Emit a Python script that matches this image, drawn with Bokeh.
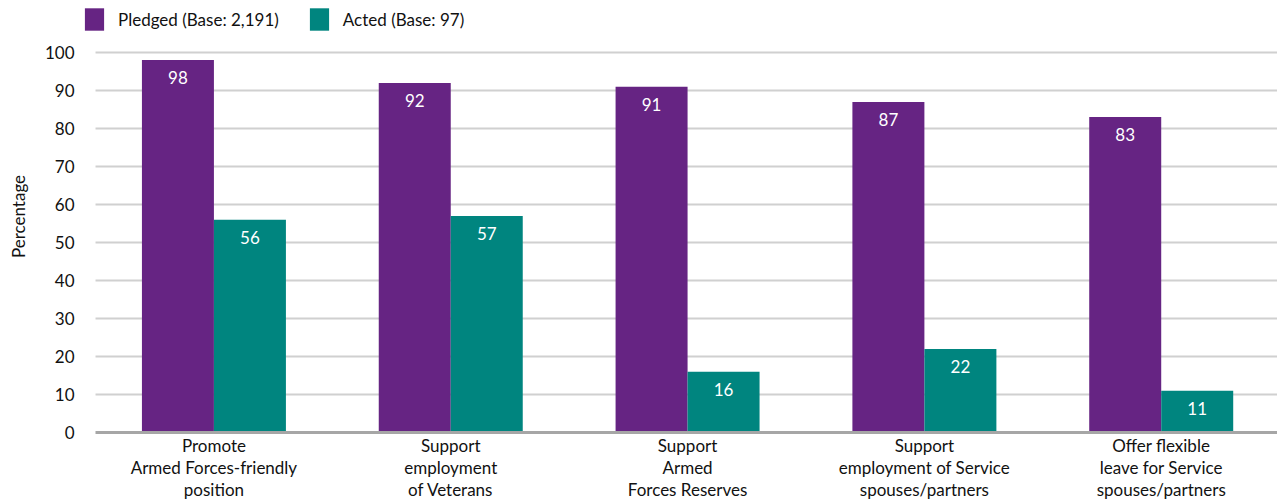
from bokeh.plotting import figure
from bokeh.models import Range1d, FixedTicker, ColumnDataSource, Legend, LegendItem
from bokeh.core.properties import value
from bokeh.embed import file_html
from bokeh.resources import INLINE

categories = [
    "Promote\nArmed Forces-friendly\nposition",
    "Support\nemployment\nof Veterans",
    "Support\nArmed\nForces Reserves",
    "Support\nemployment of Service\nspouses/partners",
    "Offer flexible\nleave for Service\nspouses/partners",
]
pledged = [98, 92, 91, 87, 83]
acted = [56, 57, 16, 22, 11]
series_names = ["Pledged (Base: 2,191)", "Acted (Base: 97)"]
y_ticks = [0, 10, 20, 30, 40, 50, 60, 70, 80, 90, 100]

PURPLE = "#662483"
TEAL = "#00857f"
FONT = "Lato"
FS = "17px"
TXT = "#111111"

n = len(categories)
xpos = [i + 0.5 for i in range(n)]
bw = 0.304
src = ColumnDataSource(dict(
    x=xpos,
    xp=[x - bw / 2 for x in xpos],
    xa=[x + bw / 2 for x in xpos],
    pledged=pledged,
    acted=acted,
    pl=[str(v) for v in pledged],
    al=[str(v) for v in acted],
))
grid_src = ColumnDataSource(dict(
    x0=[0] * (len(y_ticks) - 1),
    x1=[n] * (len(y_ticks) - 1),
    y=y_ticks[1:],
))

p = figure(width=1277, height=504, output_backend="svg", toolbar_location=None,
           x_range=Range1d(-0.0465, 4.991), y_range=Range1d(0, 113.68),
           min_border_left=84, min_border_right=0, min_border_top=0, min_border_bottom=72)
p.outline_line_color = None
p.xgrid.grid_line_color = None
p.ygrid.grid_line_color = None

# horizontal gridlines across the category area
p.segment(x0="x0", x1="x1", y0="y", y1="y", source=grid_src,
          line_color="#d0d0d0", line_width=2)

r1 = p.vbar(x="xp", top="pledged", width=bw, source=src, fill_color=PURPLE, line_color=None)
r2 = p.vbar(x="xa", top="acted", width=bw, source=src, fill_color=TEAL, line_color=None)

p.text(x="xp", y="pledged", text="pl", source=src, text_color="white",
       text_font=value(FONT), text_font_size=FS, text_align="center",
       text_baseline="top", y_offset=11)
p.text(x="xa", y="acted", text="al", source=src, text_color="white",
       text_font=value(FONT), text_font_size=FS, text_align="center",
       text_baseline="top", y_offset=11)

# x axis
p.xaxis.ticker = FixedTicker(ticks=xpos)
p.xaxis.bounds = (0, n)
p.xaxis.major_label_overrides = {x: c for x, c in zip(xpos, categories)}
p.xaxis.major_tick_line_color = None
p.xaxis.minor_tick_line_color = None
p.xaxis.axis_line_color = "#a6a6a6"
p.xaxis.axis_line_width = 3
p.xaxis.major_label_text_font = FONT
p.xaxis.major_label_text_font_size = FS
p.xaxis.major_label_text_color = TXT
p.xaxis.major_label_text_line_height = 1.05
p.xaxis.major_label_standoff = -4

# y axis
p.yaxis.ticker = FixedTicker(ticks=y_ticks)
p.yaxis.axis_line_color = None
p.yaxis.major_tick_line_color = None
p.yaxis.minor_tick_line_color = None
p.yaxis.major_label_text_font = FONT
p.yaxis.major_label_text_font_size = FS
p.yaxis.major_label_text_color = TXT
p.yaxis.major_label_standoff = 4
p.yaxis.axis_label = "Percentage"
p.yaxis.axis_label_text_font = FONT
p.yaxis.axis_label_text_font_size = FS
p.yaxis.axis_label_text_font_style = "normal"
p.yaxis.axis_label_text_color = TXT
p.yaxis.axis_label_standoff = 13

legend = Legend(items=[LegendItem(label=series_names[0], renderers=[r1]),
                       LegendItem(label=series_names[1], renderers=[r2])],
                orientation="horizontal", location=(-2, 399),
                glyph_width=24, glyph_height=28, label_standoff=12, spacing=28,
                padding=0, margin=0, border_line_color=None, background_fill_alpha=0,
                label_text_font=FONT, label_text_font_size=FS, label_text_color=TXT)
p.add_layout(legend)

open("out.html", "w").write(file_html(p, INLINE))
